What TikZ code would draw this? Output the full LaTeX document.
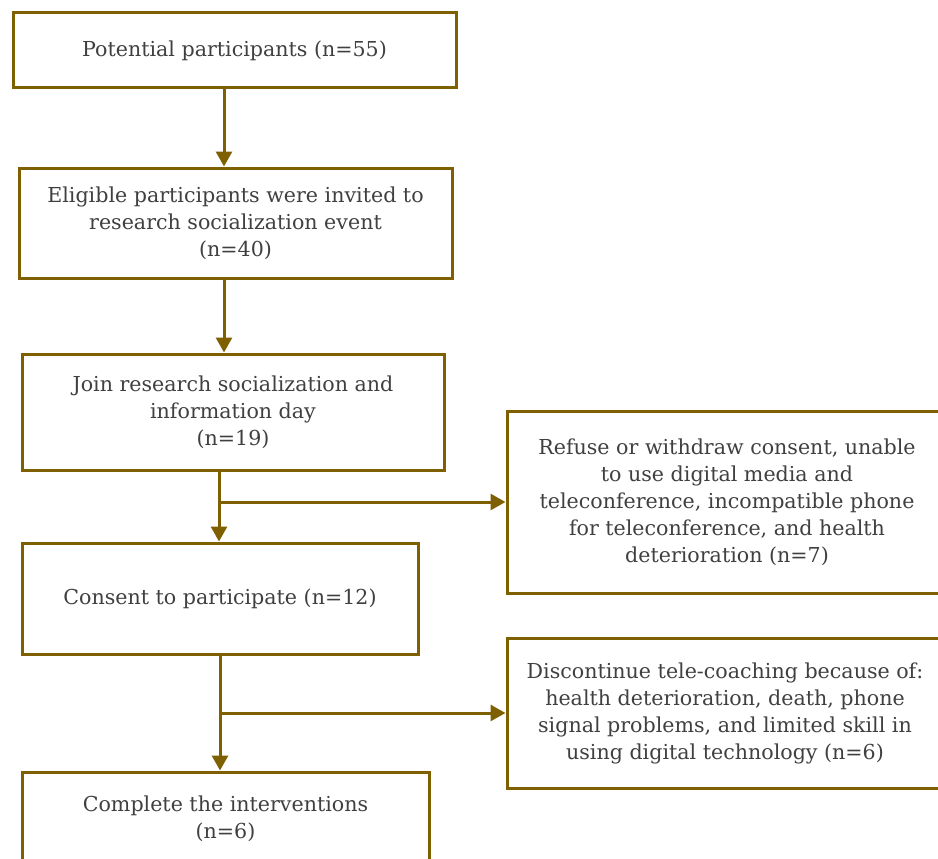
\documentclass[tikz,border=0pt]{standalone}
\usepackage{fontspec}
\setmainfont{DejaVu Serif}
\usetikzlibrary{arrows.meta}
\definecolor{brd}{HTML}{7F6000}
\definecolor{txt}{HTML}{404040}
\begin{document}
\begin{tikzpicture}[x=1pt,y=-1pt,
  box/.style={draw=brd, line width=3pt, fill=white, text=txt, align=center,
    inner sep=0pt, font=\fontsize{20.6}{27}\selectfont},
  arr/.style={draw=brd, line width=3pt, -{Triangle[length=15pt,width=16pt]}}]
\useasboundingbox (0,0) rectangle (938,859);
\clip (0,0) rectangle (938,859);
\node[box, minimum width=443pt, minimum height=75pt] (b1) at (234.5,50.5) {Potential participants (n=55)};
\node[box, minimum width=433pt, minimum height=110pt] (b2) at (235.5,223) {Eligible participants were invited to\\research socialization event\\(n=40)};
\node[box, minimum width=422pt, minimum height=116pt] (b3) at (233,412) {Join research socialization and\\information day\\(n=19)};
\node[box, minimum width=396pt, minimum height=111pt] (b4) at (220,598.5) {Consent to participate (n=12)};
\node[box, minimum width=407pt, minimum height=94pt] (b5) at (225.5,819) {Complete the interventions\\(n=6)};
\node[box, minimum width=440pt, minimum height=182pt] (rA) at (727,502) {Refuse or withdraw consent, unable\\to use digital media and\\teleconference, incompatible phone\\for teleconference, and health\\deterioration (n=7)};
\node[box, minimum width=436pt, minimum height=150pt] (rB) at (725,713) {Discontinue tele-coaching because of:\\health deterioration, death, phone\\signal problems, and limited skill in\\using digital technology (n=6)};
\coordinate (c1) at (224,0);
\coordinate (c3) at (219,0);
\coordinate (c4) at (220,0);
\draw[arr] (b1.south -| c1) -- (b2.north -| c1);
\draw[arr] (b2.south -| c1) -- (b3.north -| c1);
\draw[arr] (b3.south -| c3) -- (b4.north -| c3);
\draw[arr] (rA.west -| c3) -- (rA.west);
\draw[arr] (b4.south -| c4) -- (b5.north -| c4);
\draw[arr] (rB.west -| c4) -- (rB.west);
\end{tikzpicture}
\end{document}
